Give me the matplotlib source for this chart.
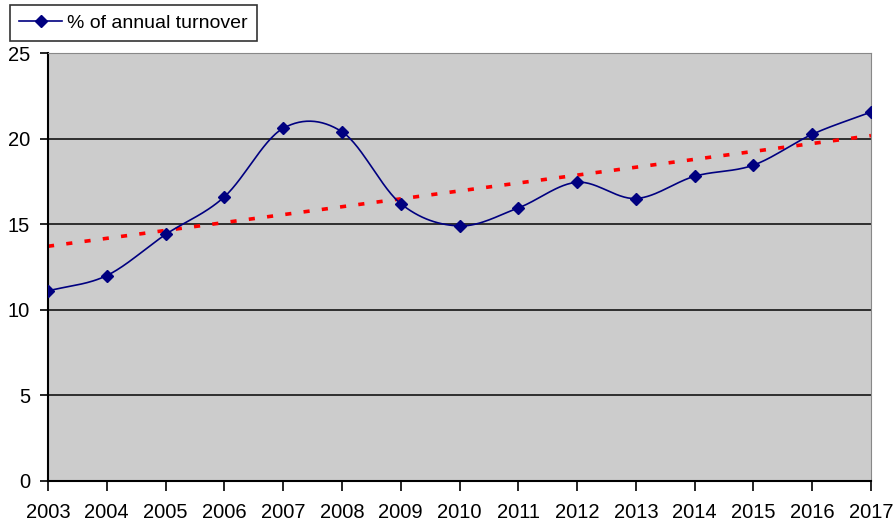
import numpy as np
import matplotlib.pyplot as plt

plt.rcParams['font.family'] = ['Liberation Sans', 'DejaVu Sans']

# data
years = [2003, 2004, 2005, 2006, 2007, 2008, 2009, 2010,
         2011, 2012, 2013, 2014, 2015, 2016, 2017]
turnover_pct = [11.1, 12.0, 14.4, 16.6, 20.6, 20.4, 16.2, 14.9,
                15.95, 17.45, 16.5, 17.8, 18.45, 20.25, 21.55]
y_ticks = [0, 5, 10, 15, 20, 25]


def smooth_curve(x, y, steps=30):
    # Catmull-Rom style smoothing, like a spreadsheet "smoothed line"
    x = np.asarray(x, dtype=float)
    y = np.asarray(y, dtype=float)
    n = len(x)
    xs, ys = [], []
    for i in range(n - 1):
        i0, i3 = max(i - 1, 0), min(i + 2, n - 1)
        m0 = (y[i + 1] - y[i0]) / (x[i + 1] - x[i0])
        m1 = (y[i3] - y[i]) / (x[i3] - x[i])
        h = x[i + 1] - x[i]
        t = np.linspace(0, 1, steps, endpoint=(i == n - 2))
        h00 = 2 * t**3 - 3 * t**2 + 1
        h10 = t**3 - 2 * t**2 + t
        h01 = -2 * t**3 + 3 * t**2
        h11 = t**3 - t**2
        xs.append(x[i] + t * h)
        ys.append(h00 * y[i] + h10 * h * m0 + h01 * y[i + 1] + h11 * h * m1)
    return np.concatenate(xs), np.concatenate(ys)


def main():
    fig = plt.figure(figsize=(8.94, 5.25), dpi=100)
    ax = fig.add_axes([48 / 894, 1 - 481 / 525, (871 - 48) / 894, (481 - 53) / 525])
    ax.set_facecolor('#cccccc')

    # horizontal gridlines only
    for v in y_ticks[1:-1]:
        ax.axhline(v, color='#222222', lw=1.3, zorder=1)

    # linear trend line
    coef = np.polyfit(years, turnover_pct, 1)
    trend = np.polyval(coef, years)
    ax.plot(years, trend, color='#ff0000', lw=2.6, linestyle=(0, (1.7, 3.4)),
            zorder=2)

    # smoothed series with diamond markers
    sx, sy = smooth_curve(years, turnover_pct)
    ax.plot(sx, sy, color='#000080', lw=1.2, zorder=3)
    ax.plot(years, turnover_pct, 'D', color='#000080', ms=6, zorder=4)

    # legend entry
    handle, = ax.plot([], [], '-D', color='#000080', lw=1.2, ms=6)
    leg = fig.legend([handle], ['% of annual turnover'], loc='upper left',
                     bbox_to_anchor=(10 / 894, 1 - 5 / 525), fontsize=14,
                     frameon=True, fancybox=False, edgecolor='black',
                     borderpad=0.48, handlelength=2.2, handletextpad=0.25,
                     borderaxespad=0)
    leg.get_frame().set_linewidth(1.2)

    ax.set_xlim(years[0], years[-1])
    ax.set_ylim(0, 25)
    ax.set_xticks(years)
    ax.set_yticks(y_ticks)
    ax.tick_params(labelsize=14.5, width=1.2, direction='out')
    ax.tick_params(axis='x', length=7, pad=9)
    ax.tick_params(axis='y', length=6, pad=7)

    ax.spines['left'].set_color('black')
    ax.spines['bottom'].set_color('black')
    ax.spines['left'].set_linewidth(1.5)
    ax.spines['bottom'].set_linewidth(1.5)
    ax.spines['top'].set_color('#888888')
    ax.spines['right'].set_color('#888888')

    fig.savefig('out.png', dpi=100)


if __name__ == "__main__":
    main()
